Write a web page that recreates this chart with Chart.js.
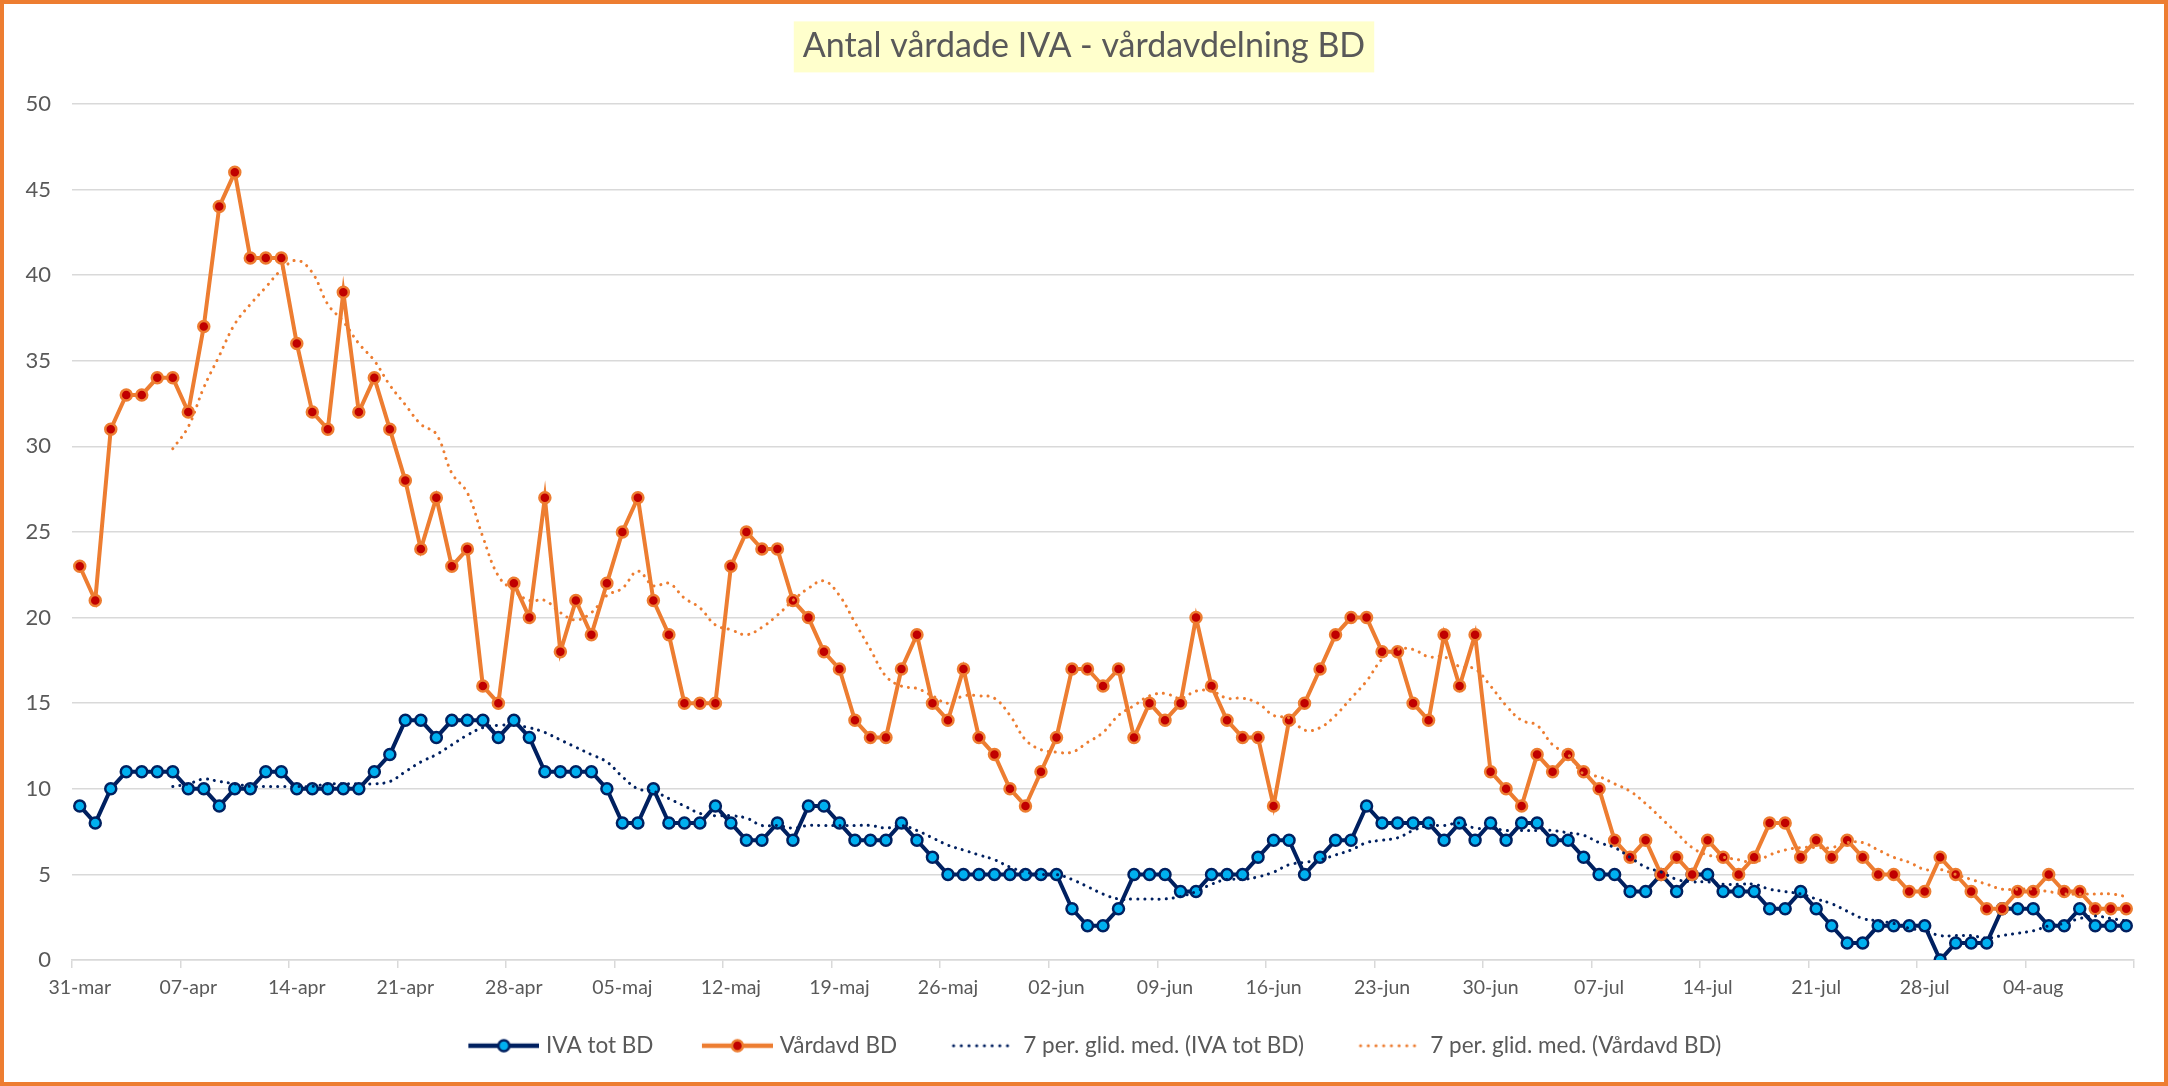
<!DOCTYPE html>
<html>
<head>
<meta charset="utf-8">
<script src="https://cdn.jsdelivr.net/npm/chart.js@4"></script>
<style>
    body { margin: 0; background: #fff; }
    #wrap { width: 2168px; height: 1086px; box-sizing: border-box; border: 4px solid #ED7D31; background: #fff; }
    canvas { display: block; }
</style>
</head>
<body>
<div id="wrap"><canvas id="myChart" width="2160" height="1078"></canvas></div>
<script>
// dates 31-mar .. 10-aug
function days(month, from, to) {
    const out = [];
    for (let d = from; d <= to; d++) out.push(String(d).padStart(2, '0') + '-' + month);
    return out;
}
const categories = [
    ...days('mar', 31, 31), ...days('apr', 1, 30), ...days('maj', 1, 31),
    ...days('jun', 1, 30), ...days('jul', 1, 31), ...days('aug', 1, 10)
];

const ivaTotBD = [
    9, 8, 10, 11, 11, 11, 11, 10, 10, 9,
    10, 10, 11, 11, 10, 10, 10, 10, 10, 11,
    12, 14, 14, 13, 14, 14, 14, 13, 14, 13,
    11, 11, 11, 11, 10, 8, 8, 10, 8, 8,
    8, 9, 8, 7, 7, 8, 7, 9, 9, 8,
    7, 7, 7, 8, 7, 6, 5, 5, 5, 5,
    5, 5, 5, 5, 3, 2, 2, 3, 5, 5,
    5, 4, 4, 5, 5, 5, 6, 7, 7, 5,
    6, 7, 7, 9, 8, 8, 8, 8, 7, 8,
    7, 8, 7, 8, 8, 7, 7, 6, 5, 5,
    4, 4, 5, 4, 5, 5, 4, 4, 4, 3,
    3, 4, 3, 2, 1, 1, 2, 2, 2, 2,
    0, 1, 1, 1, 3, 3, 3, 2, 2, 3,
    2, 2, 2
];

const vardavdBD = [
    23, 21, 31, 33, 33, 34, 34, 32, 37, 44,
    46, 41, 41, 41, 36, 32, 31, 39, 32, 34,
    31, 28, 24, 27, 23, 24, 16, 15, 22, 20,
    27, 18, 21, 19, 22, 25, 27, 21, 19, 15,
    15, 15, 23, 25, 24, 24, 21, 20, 18, 17,
    14, 13, 13, 17, 19, 15, 14, 17, 13, 12,
    10, 9, 11, 13, 17, 17, 16, 17, 13, 15,
    14, 15, 20, 16, 14, 13, 13, 9, 14, 15,
    17, 19, 20, 20, 18, 18, 15, 14, 19, 16,
    19, 11, 10, 9, 12, 11, 12, 11, 10, 7,
    6, 7, 5, 6, 5, 7, 6, 5, 6, 8,
    8, 6, 7, 6, 7, 6, 5, 5, 4, 4,
    6, 5, 4, 3, 3, 4, 4, 5, 4, 4,
    3, 3, 3
];

// 7 per. glid. med. as shown in the picture (first 6 days empty)
const ivaTotBDGlid = [
    null, null, null, null, null, null,
    10.14, 10.29, 10.57, 10.43, 10.29, 10.14, 10.14, 10.14, 10.14, 10.14,
    10.29, 10.29, 10.29, 10.29, 10.43, 11.00, 11.57, 12.00, 12.57, 13.14,
    13.57, 13.71, 13.71, 13.57, 13.29, 12.86, 12.43, 12.00, 11.57, 10.71,
    10.00, 9.86, 9.43, 9.00, 8.57, 8.43, 8.43, 8.29, 7.86, 7.86,
    7.71, 7.86, 7.86, 7.86, 7.86, 7.86, 7.71, 7.86, 7.57, 7.14,
    6.71, 6.43, 6.14, 5.86, 5.43, 5.14, 5.00, 5.00, 4.71, 4.29,
    3.86, 3.57, 3.57, 3.57, 3.57, 3.71, 4.00, 4.43, 4.71, 4.71,
    4.86, 5.14, 5.57, 5.71, 5.86, 6.14, 6.43, 6.86, 7.00, 7.14,
    7.57, 7.86, 7.86, 8.00, 7.71, 7.71, 7.57, 7.57, 7.57, 7.57,
    7.43, 7.29, 6.86, 6.57, 6.00, 5.43, 5.14, 4.71, 4.57, 4.57,
    4.43, 4.43, 4.43, 4.14, 4.00, 3.86, 3.57, 3.29, 2.86, 2.43,
    2.29, 2.14, 1.86, 1.71, 1.43, 1.43, 1.43, 1.29, 1.43, 1.57,
    1.71, 2.00, 2.14, 2.43, 2.57, 2.43, 2.29
];

const vardavdBDGlid = [
    null, null, null, null, null, null,
    29.86, 31.14, 33.43, 35.29, 37.14, 38.29, 39.29, 40.29, 40.86, 40.14,
    38.29, 37.29, 36.00, 35.00, 33.57, 32.43, 31.29, 30.71, 28.43, 27.29,
    24.71, 22.43, 21.57, 21.00, 21.00, 20.29, 19.86, 20.29, 21.29, 21.71,
    22.71, 21.86, 22.00, 21.14, 20.57, 19.57, 19.29, 19.00, 19.43, 20.14,
    21.00, 21.71, 22.14, 21.29, 19.71, 18.14, 16.57, 16.00, 15.86, 15.43,
    15.00, 15.43, 15.43, 15.29, 14.29, 12.86, 12.29, 12.14, 12.14, 12.71,
    13.29, 14.29, 14.86, 15.43, 15.57, 15.29, 15.71, 15.71, 15.29, 15.29,
    15.00, 14.29, 14.14, 13.43, 13.57, 14.29, 15.29, 16.29, 17.57, 18.14,
    18.14, 17.71, 17.71, 17.14, 17.00, 16.00, 14.86, 14.00, 13.71, 12.57,
    12.00, 10.86, 10.71, 10.29, 9.86, 9.14, 8.29, 7.43, 6.57, 6.14,
    6.00, 5.86, 5.71, 6.14, 6.43, 6.57, 6.57, 6.57, 6.86, 6.86,
    6.43, 6.00, 5.71, 5.29, 5.29, 5.00, 4.71, 4.43, 4.14, 4.14,
    4.14, 4.00, 3.86, 3.86, 3.86, 3.86, 3.71
];

const NAVY = '#002060';
const CYAN = '#00B0F0';
const ORANGE = '#ED7D31';
const DARKRED = '#C00000';
const GREY = '#595959';
const FONT = 'Lato, "Open Sans", sans-serif';

const LEGEND_BOX = 88;   // legend box width, the symbol image is 9px wider

// small images used as legend symbols, drawn flush right
function legendIcon(color, fill, dotted) {
    const c = document.createElement('canvas');
    c.width = LEGEND_BOX + 9;
    c.height = 20;
    const g = c.getContext('2d');
    const x1 = c.width - 71, x2 = c.width;
    g.strokeStyle = color;
    if (dotted) {
        g.lineWidth = 3;
        g.lineCap = 'round';
        g.setLineDash([0.1, 7.6]);
        g.beginPath(); g.moveTo(x1 + 8, 10); g.lineTo(x2 - 2, 10); g.stroke();
    } else {
        g.lineWidth = 4.5;
        g.beginPath(); g.moveTo(x1, 10); g.lineTo(x2, 10); g.stroke();
        g.beginPath(); g.arc((x1 + x2) / 2, 10, 5.5, 0, 2 * Math.PI);
        g.fillStyle = fill; g.fill();
        g.lineWidth = 2.5; g.stroke();
    }
    return c;
}
const icons = [
    legendIcon(NAVY, CYAN, false),
    legendIcon(ORANGE, DARKRED, false),
    legendIcon(NAVY, null, true),
    legendIcon(ORANGE, null, true)
];

// yellow box behind the title
const titleBox = {
    id: 'titleBox',
    beforeDraw(chart) {
        const t = chart.titleBlock;
        const opts = chart.options.plugins.title;
        const ctx = chart.ctx;
        ctx.save();
        ctx.font = opts.font.size + 'px ' + FONT;
        const w = ctx.measureText(opts.text).width;
        const cx = (t.left + t.right) / 2;
        const cy = t.top + opts.padding.top + opts.font.size * 1.2 / 2;
        ctx.fillStyle = '#FFFFCC';
        ctx.fillRect(cx - w / 2 - 9, cy - 25, w + 18, 51);
        ctx.restore();
    }
};

const ctx = document.getElementById('myChart');
new Chart(ctx, {
    type: 'line',
    data: {
        labels: categories,
        datasets: [{
            label: 'IVA tot BD',
            data: ivaTotBD,
            borderColor: NAVY,
            borderWidth: 4,
            pointRadius: 5.5,
            pointBorderWidth: 2.5,
            pointBackgroundColor: CYAN,
            pointBorderColor: NAVY,
            tension: 0,
            order: 4
        }, {
            label: 'Vårdavd BD',
            data: vardavdBD,
            borderColor: ORANGE,
            borderWidth: 4,
            pointRadius: 5.5,
            pointBorderWidth: 2.5,
            pointBackgroundColor: DARKRED,
            pointBorderColor: ORANGE,
            tension: 0,
            order: 3
        }, {
            label: '7 per. glid. med. (IVA tot BD)',
            data: ivaTotBDGlid,
            borderColor: NAVY,
            borderWidth: 3,
            borderDash: [0.1, 7],
            borderCapStyle: 'round',
            pointRadius: 0,
            tension: 0.4,
            order: 2
        }, {
            label: '7 per. glid. med. (Vårdavd BD)',
            data: vardavdBDGlid,
            borderColor: ORANGE,
            borderWidth: 3,
            borderDash: [0.1, 7],
            borderCapStyle: 'round',
            pointRadius: 0,
            tension: 0.4,
            order: 1
        }]
    },
    options: {
        responsive: false,
        animation: false,
        devicePixelRatio: 1,
        events: [],
        layout: { padding: { left: 0, right: 0, top: 0, bottom: 15 } },
        scales: {
            x: {
                offset: true,
                afterFit: (scale) => { scale.paddingRight = 30; },
                grid: {
                    offset: true,
                    drawOnChartArea: false,
                    drawTicks: true,
                    tickLength: 8,
                    lineWidth: 1.5,
                    color: (c) => (c.index === undefined || c.index % 7 === 0) ? '#d9d9d9' : 'rgba(0,0,0,0)'
                },
                border: { color: '#d9d9d9', width: 1.5 },
                ticks: {
                    autoSkip: false,
                    maxRotation: 0,
                    padding: 8,
                    color: GREY,
                    font: { family: FONT, size: 19.5 },
                    callback: function (val, index) {
                        return index % 7 === 0 ? this.getLabelForValue(val) : '';
                    }
                }
            },
            y: {
                min: 0,
                max: 50,
                afterFit: (scale) => { scale.width = 68; },
                grid: { color: '#d9d9d9', lineWidth: 1.5, drawTicks: false },
                border: { display: false },
                ticks: {
                    stepSize: 5,
                    padding: 21,
                    color: GREY,
                    font: { family: FONT, size: 22 }
                }
            }
        },
        plugins: {
            title: {
                display: true,
                text: 'Antal vårdade IVA - vårdavdelning BD',
                color: GREY,
                font: { family: FONT, size: 34, weight: 'normal' },
                padding: { top: 22, bottom: 37 }
            },
            legend: {
                position: 'bottom',
                labels: {
                    usePointStyle: true,
                    pointStyleWidth: LEGEND_BOX,
                    padding: 27,
                    color: GREY,
                    font: { family: FONT, size: 22.5 },
                    generateLabels: (chart) => chart.data.datasets.map((ds, i) => ({
                        text: ds.label,
                        pointStyle: icons[i],
                        fontColor: GREY,
                        fillStyle: 'rgba(0,0,0,0)',
                        strokeStyle: 'rgba(0,0,0,0)',
                        lineWidth: 0,
                        hidden: false,
                        datasetIndex: i
                    }))
                }
            },
            tooltip: { enabled: false }
        }
    },
    plugins: [titleBox]
});
</script>
</body>
</html>
